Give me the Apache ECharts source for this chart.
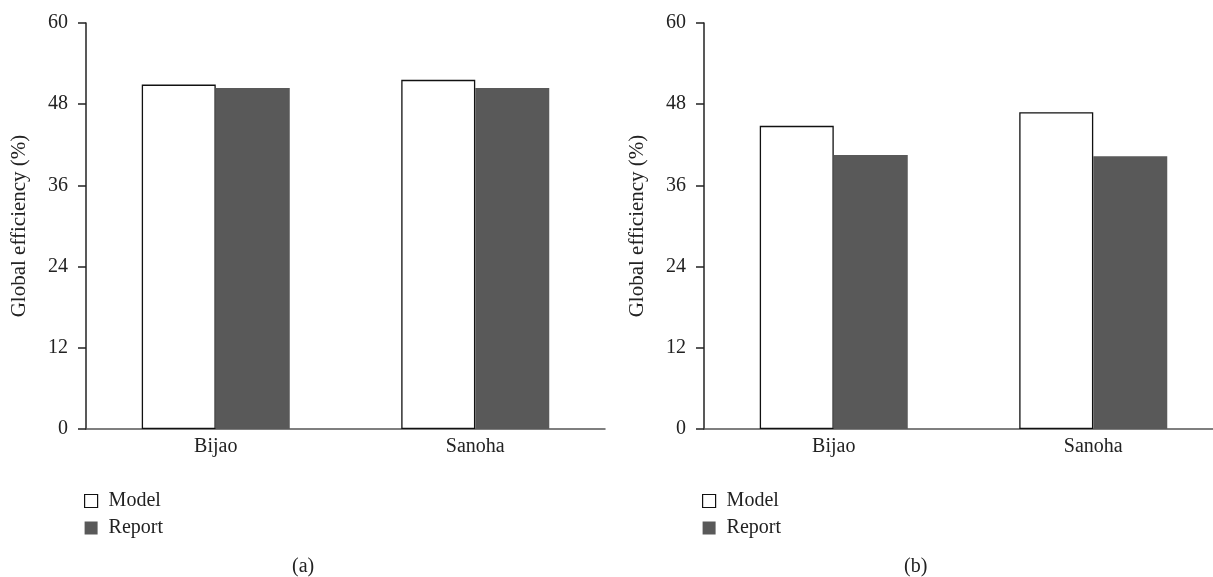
<!DOCTYPE html>
<html>
<head>
<meta charset="utf-8">
<script src="https://cdn.jsdelivr.net/npm/echarts@6/dist/echarts.min.js"></script>
<style>html,body{margin:0;padding:0;background:#fff;}#c{width:1213px;height:577px;}</style>
</head>
<body>
<div id="c"></div>
<script>
const categories = ['Bijao', 'Sanoha'];
const modelA = [50.9, 51.6];
const reportA = [50.4, 50.4];
const modelB = [44.8, 46.8];
const reportB = [40.5, 40.3];
const yTicks = [0, 12, 24, 36, 48, 60];
const panelLabels = ['(a)', '(b)'];

const FONT = 'Liberation Serif';
const chart = echarts.init(document.getElementById('c'), null, {renderer: 'canvas'});

function xAxis(i) {
  return {
    type: 'category', gridIndex: i, data: categories,
    axisLine: {show: true, lineStyle: {color: '#555', width: 1.5}},
    axisTick: {show: false},
    axisLabel: {color: '#222', fontFamily: FONT, fontSize: 20, margin: 8}
  };
}
function yAxis(i) {
  return {
    type: 'value', gridIndex: i, min: yTicks[0], max: yTicks[yTicks.length - 1], interval: 12,
    name: 'Global efficiency (%)', nameLocation: 'middle', nameGap: 56,
    nameTextStyle: {color: '#222', fontFamily: FONT, fontSize: 21},
    axisLine: {show: true, lineStyle: {color: '#222', width: 1.5}},
    axisTick: {show: true, inside: false, length: 8, lineStyle: {color: '#222', width: 1.5}},
    axisLabel: {color: '#222', fontFamily: FONT, fontSize: 20, margin: 18},
    splitLine: {show: false}
  };
}
const modelStyle = {color: '#ffffff', borderColor: '#111', borderWidth: 1.3};
const reportStyle = {color: '#595959'};
function series(name, data, i, style) {
  return {
    name: name, type: 'bar', xAxisIndex: i, yAxisIndex: i, data: data,
    barWidth: 74, barGap: '0%', itemStyle: style, silent: true, animation: false
  };
}
function legend(left) {
  return {
    orient: 'vertical', left: left, top: 491, padding: 0, itemWidth: 13, itemHeight: 13, itemGap: 7,
    icon: 'rect', selectedMode: false,
    textStyle: {color: '#222', fontFamily: FONT, fontSize: 20, padding: [0, 0, 0, 6]},
    data: [
      {name: 'Model', itemStyle: {color: '#fff', borderColor: '#111', borderWidth: 1.2}},
      {name: 'Report', itemStyle: {color: '#595959', borderWidth: 0}}
    ]
  };
}

chart.setOption({
  backgroundColor: '#fff',
  animation: false,
  grid: [
    {left: 86, top: 23, width: 519, height: 406, outerBoundsMode: 'none'},
    {left: 704, top: 23, width: 519, height: 406, outerBoundsMode: 'none'}
  ],
  xAxis: [xAxis(0), xAxis(1)],
  yAxis: [yAxis(0), yAxis(1)],
  legend: [legend(84), legend(702)],
  series: [
    series('Model', modelA, 0, modelStyle),
    series('Report', reportA, 0, reportStyle),
    series('Model', modelB, 1, modelStyle),
    series('Report', reportB, 1, reportStyle)
  ],
  graphic: [
    {type: 'text', left: 292, top: 557, style: {text: panelLabels[0], fill: '#222', font: '20px "Liberation Serif"'}},
    {type: 'text', left: 904, top: 557, style: {text: panelLabels[1], fill: '#222', font: '20px "Liberation Serif"'}}
  ]
});
</script>
</body>
</html>
